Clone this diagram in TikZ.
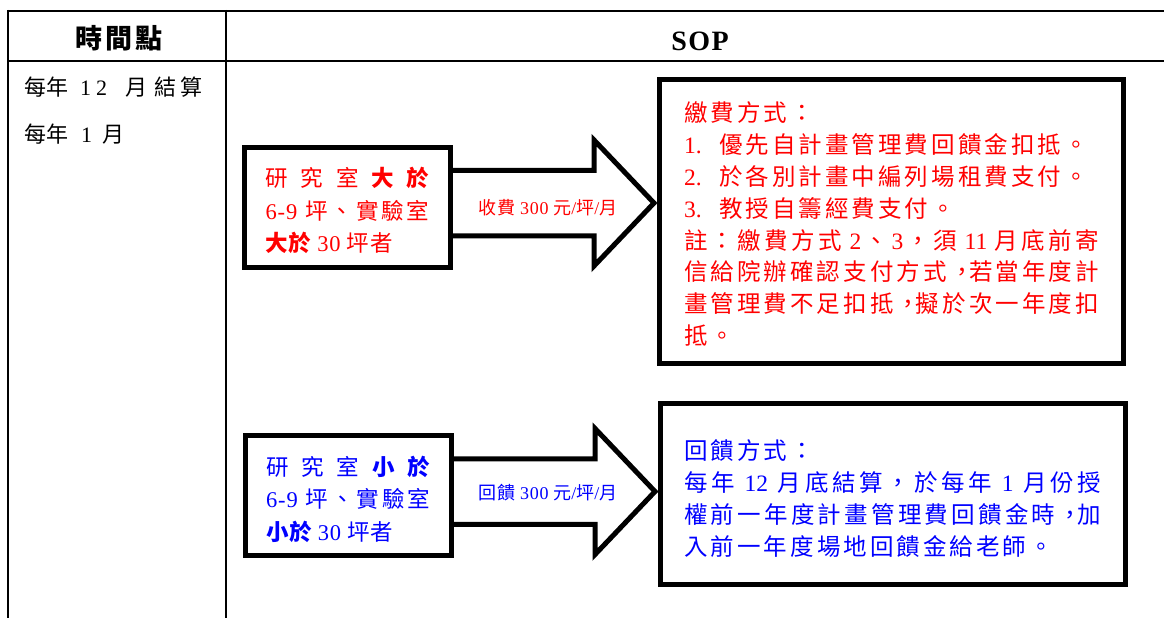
\documentclass[tikz,border=0pt]{standalone}
\usepackage{fontspec}
\setmainfont{Noto Sans CJK TC}
\newfontfamily\cjk{Noto Sans CJK TC}
\newfontfamily\cjkA[LetterSpace=13]{Noto Sans CJK TC}
\newfontfamily\cjkB[LetterSpace=4]{Noto Sans CJK TC}
\newfontfamily\cjkH[LetterSpace=12]{Noto Sans CJK TC}
\newfontfamily\tm{Liberation Serif}
\newfontfamily\tmB[LetterSpace=4]{Liberation Serif}
\newfontfamily\tmH[LetterSpace=5]{Liberation Serif}
\usetikzlibrary{calc}
\let\lat\tm
% justified line: \J{width}{tokens}
\def\Jendm{\Jend}
\newcommand\J[2]{\hbox to #1{\Jx#2\Jend}}
\def\Jx#1{#1\Jy}
\def\Jy#1{\def\Jtmp{#1}\ifx\Jtmp\Jendm\else\hfil#1\expandafter\Jy\fi}
\newcommand\ncomma{\makebox[16pt][l]{，}}
\newcommand\upstrut[1]{\rule{0pt}{#1}}
\tikzset{
  gridline/.style={line width=2pt},
  sbox/.style={draw, line width=5pt, align=left, inner sep=0pt},
  fat/.style={draw, line width=5pt, line join=miter},
  txt/.style={inner sep=0pt},
}
% fat arrow from node #1 to node #2, axis offset #3
\newcommand\fatarrow[3]{%
  \coordinate (#1tip) at (#2.west |- #1.east);
  \draw[fat] ($(#1.east)+(-2.5,#3-32.75)$) -- ($(#1tip)+(-63,#3-32.75)$)
    -- ($(#1tip)+(-63,#3-63)$) -- ($(#1tip)+(-3,#3)$)
    -- ($(#1tip)+(-63,#3+63)$) -- ($(#1tip)+(-63,#3+32.75)$)
    -- ($(#1.east)+(-2.5,#3+32.75)$);}
\begin{document}
\begin{tikzpicture}[x=1pt,y=-1pt]
\useasboundingbox (0,0) rectangle (1164,618);
% table
\draw[gridline] (8,11) -- (1164,11);
\draw[gridline] (8,61) -- (1164,61);
\draw[gridline] (8,10) -- (8,618);
\draw[gridline] (226,10) -- (226,618);
% header
\node[txt, font=\fontsize{27}{30}\selectfont\cjkH\bfseries] (h1) at (119,38) {時間點};
\node[txt, font=\fontsize{28}{30}\selectfont\tmH\bfseries] (h2) at (700,41) {SOP};
% left column
\node[txt, anchor=west, font=\fontsize{22}{26}\selectfont\cjk] (t1) at (24,87)
  {每年\hskip12pt{\lat 1\hskip5pt 2}\hskip18pt 月\hskip7pt 結\hskip4pt 算};
\node[txt, anchor=west, font=\fontsize{22}{26}\selectfont\cjk] (t2) at (24,134)
  {每年\hskip13pt{\lat 1}\hskip10pt 月};
% top row
\node[sbox, text=red, minimum width=206pt, minimum height=120pt,
  font=\fontsize{22.5}{32.5}\selectfont\cjkB\let\lat\tmB] (b1) at (347.5,207.5)
  {\upstrut{26pt}\J{164pt}{研究室{{\bfseries 大}}{{\bfseries 於}}}\\
   \J{164pt}{{{\lat 6-9\hskip5pt}}坪、實驗室}\\
   {\bfseries 大於} {\lat 30} 坪者};
\node[sbox, text=red, minimum width=464pt, minimum height=284pt,
  font=\fontsize{23.5}{31.9}\selectfont\cjkA] (r1) at (891.5,221.5)
  {\upstrut{25pt}繳費方式：\\
   \makebox[35pt][l]{\lat 1.}優先自計畫管理費回饋金扣抵。\\
   \makebox[35pt][l]{\lat 2.}於各別計畫中編列場租費支付。\\
   \makebox[35pt][l]{\lat 3.}教授自籌經費支付。\\
   \J{415pt}{註：繳費方式{{\hskip4pt\lat 2}}、{{\lat 3}}，須{{\hskip4pt\lat 11\hskip4pt}}月底前寄}\\
   \J{415pt}{信給院辦確認支付方式{{\ncomma}}若當年度計}\\
   \J{415pt}{畫管理費不足扣抵{{\ncomma}}擬於次一年度扣}\\
   抵。};
\fatarrow{b1}{r1}{-4.5}
\node[txt, text=red, font=\fontsize{18}{20}\selectfont\cjkB\let\lat\tmB] (l1) at (548,208)
  {收費 {\lat 300} 元{\lat /}坪{\lat /}月};
% bottom row
\node[sbox, text=blue, minimum width=206pt, minimum height=120pt,
  font=\fontsize{22.5}{32.5}\selectfont\cjkB\let\lat\tmB] (b2) at (348,495)
  {\upstrut{28pt}\J{164pt}{研究室{{\bfseries 小}}{{\bfseries 於}}}\\
   \J{164pt}{{{\lat 6-9\hskip5pt}}坪、實驗室}\\
   {\bfseries 小於} {\lat 30} 坪者};
\node[sbox, text=blue, minimum width=464.5pt, minimum height=181pt,
  font=\fontsize{23.5}{31.7}\selectfont\cjkA] (r2) at (892.75,494)
  {\upstrut{29pt}回饋方式：\\
   \J{417pt}{每年{{\hskip6pt\lat 12\hskip6pt}}月底結算，於每年{{\hskip6pt\lat 1\hskip6pt}}月份授}\\
   \J{417pt}{權前一年度計畫管理費回饋金時{{\ncomma}}加}\\
   入前一年度場地回饋金給老師。};
\fatarrow{b2}{r2}{-3.5}
\node[txt, text=blue, font=\fontsize{18}{20}\selectfont\cjkB\let\lat\tmB] (l2) at (548,493)
  {回饋 {\lat 300} 元{\lat /}坪{\lat /}月};
\end{tikzpicture}
\end{document}
